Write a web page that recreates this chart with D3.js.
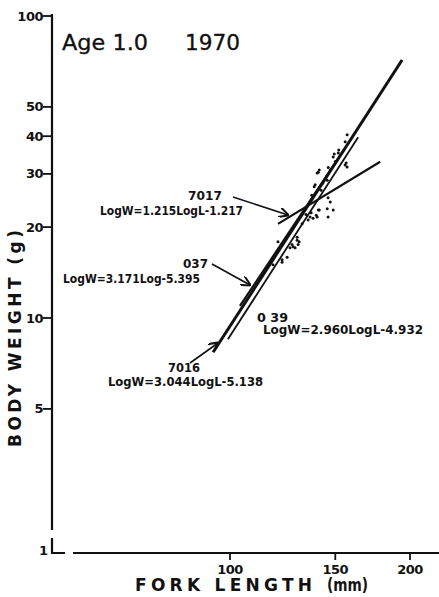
<!DOCTYPE html>
<html>
<head>
    <script src="https://d3js.org/d3.v7.min.js"></script>
    <style>
        body { margin: 0; background: #fff; }
        .tick-label { font-family: "DejaVu Sans", sans-serif; font-weight: bold; font-size: 13px; fill: #111; }
        .eq { font-family: "DejaVu Sans", sans-serif; font-weight: bold; font-size: 12px; fill: #111; }
        .id { font-family: "DejaVu Sans", sans-serif; font-weight: bold; font-size: 13px; fill: #111; }
        .axis-title { font-family: "DejaVu Sans", sans-serif; font-weight: bold; font-size: 17px; fill: #111; }
        .title { font-family: "DejaVu Sans", sans-serif; font-size: 21px; fill: #111; stroke: #111; stroke-width: 0.3; }
    </style>
</head>
<body>
<div id="chart"></div>
<script>
    // tick values
    var yTicks = [100, 50, 40, 30, 20, 10, 5];
    var xTicks = [100, 150, 200];

    // fitted regression lines, endpoints [L, W]
    var lineNames = ["7016", "039", "037", "7017"];
    var lineStart = [[93.7, 7.7], [99.2, 8.5], [103.9, 10.96], [120.3, 20.5]];
    var lineEnd = [[194, 71.5], [163.8, 39.7], [155.8, 36.5], [178.3, 32.9]];
    var lineWidth = [3, 1.8, 2.2, 2.2];

    // observed fish (fork length mm, body weight g)
    var fishL = [157.0, 155.8, 149.4, 151.7, 148.8, 141.0, 139.9, 147.1, 145.4, 138.3,
                 138.8, 156.4, 157.0, 155.8, 140.5, 145.9, 147.1, 148.8, 145.4, 141.0,
                 139.9, 145.9, 136.1, 135.1, 129.5, 130.5, 130.0, 127.5, 126.0, 124.6,
                 122.2, 136.7, 139.4, 140.5, 137.7, 120.3, 129.5, 128.5, 122.2,
                 152.0, 150.0, 146.0, 143.0, 142.0, 137.0, 134.0, 132.0, 127.0, 118.0];
    var fishW = [40.4, 38.3, 34.9, 35.2, 34.1, 30.9, 30.2, 30.9, 28.6, 27.2,
                 27.6, 32.6, 31.6, 32.1, 30.4, 25.0, 24.2, 22.8, 23.0, 22.8,
                 21.6, 21.6, 21.6, 21.1, 18.5, 17.9, 17.5, 17.2, 17.1, 15.9,
                 15.6, 22.3, 21.9, 22.8, 21.4, 17.9, 18.1, 17.1, 15.3,
                 36.0, 33.0, 31.5, 28.0, 26.5, 25.5, 22.0, 20.5, 17.5, 15.0];

    // annotations
    var labels = [
        { id: "7017", eq: "LogW=1.215LogL-1.217", nx: 188, ny: 195, nw: 34, ex: 100, ey: 211, ew: 143, arrow: [[233, 197], [288, 215]] },
        { id: "037", eq: "LogW=3.171Log-5.395", nx: 183, ny: 263, nw: 25, ex: 63, ey: 279, ew: 137, arrow: [[212, 264], [250, 285]] },
        { id: "0 39", eq: "LogW=2.960LogL-4.932", nx: 257, ny: 317, nw: 31, ex: 263, ey: 330, ew: 160, arrow: null },
        { id: "7016", eq: "LogW=3.044LogL-5.138", nx: 168, ny: 367, nw: 32, ex: 108, ey: 382, ew: 155, arrow: [[190, 363], [218, 343]] }
    ];

    var svg = d3.select("#chart").append("svg")
        .attr("width", 439)
        .attr("height", 597);

    svg.append("defs").append("marker")
        .attr("id", "head")
        .attr("viewBox", "0 0 10 10")
        .attr("refX", 9).attr("refY", 5)
        .attr("markerWidth", 10).attr("markerHeight", 10)
        .attr("markerUnits", "userSpaceOnUse")
        .attr("orient", "auto")
        .append("path")
        .attr("d", "M0,0 L10,5 L0,10")
        .attr("fill", "none")
        .attr("stroke", "#111")
        .attr("stroke-width", 2);

    var x = d3.scaleLog().domain([100, 200]).range([230, 410]);
    var y = d3.scaleLog().domain([10, 100]).range([318, 16]);

    var axisX = 52, axisY = 553;

    // y axis (broken near the bottom)
    svg.append("line").attr("x1", axisX).attr("x2", axisX).attr("y1", 14).attr("y2", 530)
        .attr("stroke", "#111").attr("stroke-width", 2.2);
    svg.append("path").attr("d", "M" + axisX + ",538 V" + axisY + " H65")
        .attr("fill", "none").attr("stroke", "#111").attr("stroke-width", 2.2);
    // x axis
    svg.append("line").attr("x1", 73).attr("x2", 439).attr("y1", axisY).attr("y2", axisY)
        .attr("stroke", "#111").attr("stroke-width", 2.2);

    svg.selectAll(".ytick").data(yTicks).enter().append("line")
        .attr("x1", axisX - 9).attr("x2", axisX)
        .attr("y1", d => y(d)).attr("y2", d => y(d))
        .attr("stroke", "#111").attr("stroke-width", 1.8);
    svg.selectAll(".ylab").data(yTicks).enter().append("text")
        .attr("class", "tick-label")
        .attr("x", axisX - 9).attr("y", d => y(d))
        .attr("text-anchor", "end").attr("dominant-baseline", "central")
        .attr("letter-spacing", -0.5)
        .text(d => d);
    svg.append("text").attr("class", "tick-label")
        .attr("x", 48).attr("y", 550).attr("text-anchor", "end")
        .attr("dominant-baseline", "central").text("1");

    svg.selectAll(".xtick").data(xTicks).enter().append("line")
        .attr("x1", d => x(d)).attr("x2", d => x(d))
        .attr("y1", axisY).attr("y2", axisY + 7)
        .attr("stroke", "#111").attr("stroke-width", 1.8);
    svg.selectAll(".xlab").data(xTicks).enter().append("text")
        .attr("class", "tick-label")
        .attr("x", d => x(d)).attr("y", 569)
        .attr("text-anchor", "middle").attr("dominant-baseline", "central")
        .attr("letter-spacing", -0.5)
        .text(d => d);

    // axis titles
    svg.append("text").attr("class", "axis-title")
        .attr("x", 135).attr("y", 591)
        .attr("textLength", 177).attr("lengthAdjust", "spacing")
        .text("FORK LENGTH");
    svg.append("text").attr("class", "axis-title")
        .attr("x", 327).attr("y", 591)
        .attr("textLength", 41).attr("lengthAdjust", "spacingAndGlyphs")
        .text("(mm)");
    svg.append("text").attr("class", "axis-title")
        .attr("transform", "translate(21,447) rotate(-90)")
        .attr("textLength", 217).attr("lengthAdjust", "spacing")
        .text("BODY WEIGHT (g)");

    // title
    svg.append("text").attr("class", "title").attr("x", 62).attr("y", 50)
        .attr("textLength", 86).attr("lengthAdjust", "spacingAndGlyphs").text("Age 1.0");
    svg.append("text").attr("class", "title").attr("x", 185).attr("y", 50)
        .attr("textLength", 55).attr("lengthAdjust", "spacingAndGlyphs").text("1970");

    // regression lines
    svg.selectAll(".fit").data(lineNames).enter().append("line")
        .attr("class", "fit")
        .attr("x1", (d, i) => x(lineStart[i][0])).attr("y1", (d, i) => y(lineStart[i][1]))
        .attr("x2", (d, i) => x(lineEnd[i][0])).attr("y2", (d, i) => y(lineEnd[i][1]))
        .attr("stroke", "#111")
        .attr("stroke-width", (d, i) => lineWidth[i]);

    // observations
    svg.selectAll(".fish").data(fishL).enter().append("circle")
        .attr("cx", d => x(d))
        .attr("cy", (d, i) => y(fishW[i]))
        .attr("r", 1.5)
        .attr("fill", "#111");

    // labels and arrows
    labels.forEach(l => {
        svg.append("text").attr("class", "id")
            .attr("x", l.nx).attr("y", l.ny).attr("dominant-baseline", "central")
            .attr("textLength", l.nw).attr("lengthAdjust", "spacingAndGlyphs")
            .text(l.id);
        svg.append("text").attr("class", "eq")
            .attr("x", l.ex).attr("y", l.ey).attr("dominant-baseline", "central")
            .attr("textLength", l.ew).attr("lengthAdjust", "spacingAndGlyphs")
            .text(l.eq);
        if (l.arrow) {
            svg.append("line")
                .attr("x1", l.arrow[0][0]).attr("y1", l.arrow[0][1])
                .attr("x2", l.arrow[1][0]).attr("y2", l.arrow[1][1])
                .attr("stroke", "#111").attr("stroke-width", 1.6)
                .attr("marker-end", "url(#head)");
        }
    });
</script>
</body>
</html>
